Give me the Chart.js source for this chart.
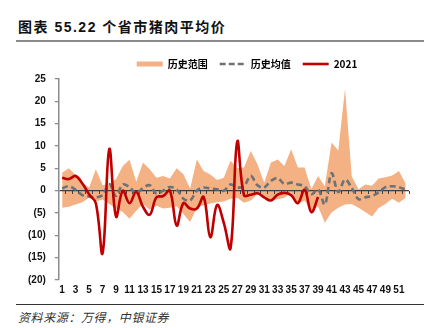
<!DOCTYPE html>
<html lang="zh-CN">
<head>
<meta charset="utf-8">
<script src="https://cdn.jsdelivr.net/npm/chart.js@4"></script>
<style>
  html, body { margin: 0; padding: 0; background: #fff; }
  body { width: 436px; height: 328px; position: relative; overflow: hidden; font-family: "Noto Sans CJK SC", sans-serif; }
  #title { position: absolute; left: 18px; top: 17px; font-family: "Liberation Sans", "Noto Sans CJK SC", sans-serif; font-size: 14px; font-weight: bold; letter-spacing: 1.5px; color: #111; line-height: 20px; white-space: nowrap; }
  #rule { position: absolute; left: 16px; width: 408px; top: 40px; height: 2px; background: #8a8a8a; }
  #wrap { position: absolute; left: 0; top: 44px; width: 436px; height: 260px; }
  #foot { position: absolute; left: 16px; width: 408px; top: 304px; height: 1px; background: #333; }
  #src { position: absolute; left: 18px; top: 309px; font-size: 12px; font-style: italic; color: #333; letter-spacing: 0.6px; line-height: 16px; white-space: nowrap; }
</style>
</head>
<body>
<div id="title">图表 55.22 个省市猪肉平均价</div>
<div id="rule"></div>
<div id="wrap"><canvas id="chart" width="436" height="260"></canvas></div>
<div id="foot"></div>
<div id="src">资料来源：万得，中银证券</div>
<script>
// Week numbers (x categories)
const weeks = [1, 2, 3, 4, 5, 6, 7, 8, 9, 10, 11, 12, 13, 14, 15, 16, 17, 18, 19, 20,
  21, 22, 23, 24, 25, 26, 27, 28, 29, 30, 31, 32, 33, 34, 35, 36, 37, 38, 39, 40,
  41, 42, 43, 44, 45, 46, 47, 48, 49, 50, 51, 52];

// Historical range: upper and lower bounds
const rangeHigh = [4.0, 5.0, 3.5, 1.8, 0.7, 4.8, 1.2, 1.5, 2.6, 5.5, 6.9, 2.0, 6.3, 4.8, 2.9, 3.3,
  2.7, 5.0, 3.7, 0.5, 7.0, 4.4, 3.6, 2.4, 2.9, 6.7, 5.0, 5.2, 8.9, 5.9, 1.8, 6.3, 7.0, 5.5,
  9.3, 5.2, 5.2, 0.3, 3.3, 1.0, 10.8, 9.0, 22.8, 3.2, 0.3, 1.4, 1.1, 2.7, 3.0, 3.4, 4.4, 1.6];
const rangeLow = [-3.8, -3.6, -3.1, -2.6, -1.6, -2.4, -2.0, -3.0, -4.0, -4.8, -6.3, -4.5, -3.0,
  -4.3, -3.4, -4.0, -3.8, -3.5, -5.2, -7.0, -3.8, -3.2, -2.9, -2.6, -2.4, -1.8, -1.6, -2.7,
  -2.2, -0.8, -1.6, -2.2, -1.9, -1.6, -0.4, -3.0, -2.2, -4.5, -3.5, -7.2, -4.9, -3.8, -3.1,
  -3.0, -3.8, -4.8, -5.8, -3.9, -3.0, -1.8, -2.7, -1.6];

// Historical mean
const histMean = [0.5, 1.0, 0.2, -1.0, -1.3, -1.5, -1.0, 1.5, -1.2, 1.4, 0.8, -0.6, 0.6, 1.2,
  -0.7, 0.0, 0.8, 0.3, -1.8, -2.2, 0.0, 0.7, 0.5, 0.3, 0.0, 1.4, 0.7, 1.0, 3.3, 1.2, 0.7,
  2.2, 2.8, 1.5, 1.8, 1.4, 1.0, -0.8, 0.3, -3.1, 3.9, -0.3, 2.5, 0.6, -1.9, -1.5, -1.2,
  -0.4, 0.8, 1.0, 0.8, 0.2];

// 2021 (weeks 1-39)
const y2021 = [2.9, 2.6, 3.3, 1.6, -0.8, -2.8, -14.0, 9.3, -5.8, 0.0, -2.8, -0.3, -3.6, -5.4,
  -1.5, -1.2, 0.0, -7.8, -2.8, -4.0, -4.0, -1.4, -10.4, -3.2, -7.2, -12.9, 11.0, -1.0, -0.9,
  -0.6, -1.5, -2.2, -0.9, -0.5, -1.0, -2.8, 0.2, -4.8, -1.4];

// Y axis range and step
const yTicks = { min: -20, max: 25, step: 5 };

const BAND = '#F4B183';
const MEAN = '#6F7275';
const RED = '#C00000';
const tickFont = { family: 'Liberation Sans', size: 10, weight: 'bold' };

// Shift the legend block sideways after layout
const legendShift = {
  id: 'legendShift',
  afterLayout(chart) {
    const lg = chart.legend;
    if (lg) { lg.left += 33; lg.right += 33; }
  }
};

new Chart(document.getElementById('chart'), {
  type: 'line',
  data: {
    labels: weeks,
    datasets: [
      { label: '历史范围', data: rangeHigh, borderWidth: 0, borderColor: 'transparent',
        backgroundColor: BAND, pointRadius: 0, fill: '+1', tension: 0, order: 3 },
      { label: '历史范围下限', data: rangeLow, borderWidth: 0, borderColor: 'transparent',
        pointRadius: 0, fill: false, tension: 0, order: 3 },
      { label: '历史均值', data: histMean, borderColor: MEAN, borderWidth: 2.6,
        borderDash: [6, 3.5], pointRadius: 0, fill: false, tension: 0.35, order: 1 },
      { label: '2021', data: y2021, borderColor: RED, borderWidth: 2.6,
        pointRadius: 0, fill: false, tension: 0.4, order: 0 }
    ]
  },
  options: {
    responsive: false,
    animation: false,
    devicePixelRatio: 1,
    layout: { padding: { top: 3, left: 19, right: 27, bottom: 4 } },
    plugins: {
      filler: { drawTime: 'beforeDraw' },
      tooltip: { enabled: false },
      legend: {
        position: 'top',
        align: 'center',
        labels: {
          usePointStyle: true,
          pointStyleWidth: 26,
          boxHeight: 5,
          padding: 12,
          color: '#333',
          font: { family: '"Noto Sans CJK SC"', size: 10, weight: 'bold' },
          generateLabels(chart) {
            const ds = chart.data.datasets;
            return [
              { text: ds[0].label, datasetIndex: 0, pointStyle: 'rect', fillStyle: BAND,
                strokeStyle: BAND, lineWidth: 0, hidden: false },
              { text: ds[2].label, datasetIndex: 2, pointStyle: 'line', fillStyle: 'transparent',
                strokeStyle: MEAN, lineWidth: 2.6, lineDash: [6, 3], hidden: false },
              { text: ds[3].label, datasetIndex: 3, pointStyle: 'line', fillStyle: 'transparent',
                strokeStyle: RED, lineWidth: 2.6, hidden: false }
            ];
          }
        }
      }
    },
    scales: {
      x: {
        type: 'category',
        offset: true,
        grid: { display: false, drawTicks: false },
        border: { display: false },
        ticks: {
          autoSkip: false, maxRotation: 0, minRotation: 0, padding: 4,
          color: '#111', font: tickFont,
          callback: (v, i) => (i % 2 === 0 ? String(weeks[i]) : '')
        }
      },
      xZero: {
        type: 'category',
        axis: 'x',
        position: { y: 0 },
        offset: true,
        grid: { offset: true, drawOnChartArea: false, drawTicks: true, tickLength: 3,
          color: '#404040', lineWidth: 1 },
        border: { display: false },
        ticks: { display: false }
      },
      y: {
        min: yTicks.min,
        max: yTicks.max,
        ticks: {
          stepSize: yTicks.step, padding: 9, color: '#111', font: tickFont,
          callback: v => (v < 0 ? '(' + (-v) + ')' : String(v))
        },
        grid: {
          color: c => (c.tick && c.tick.value === 0 ? '#404040' : 'transparent'),
          lineWidth: 1.3,
          tickColor: '#8c8c8c',
          tickLength: 4
        },
        border: { color: '#8c8c8c', width: 1.5 }
      }
    }
  },
  plugins: [legendShift]
});
</script>
</body>
</html>
